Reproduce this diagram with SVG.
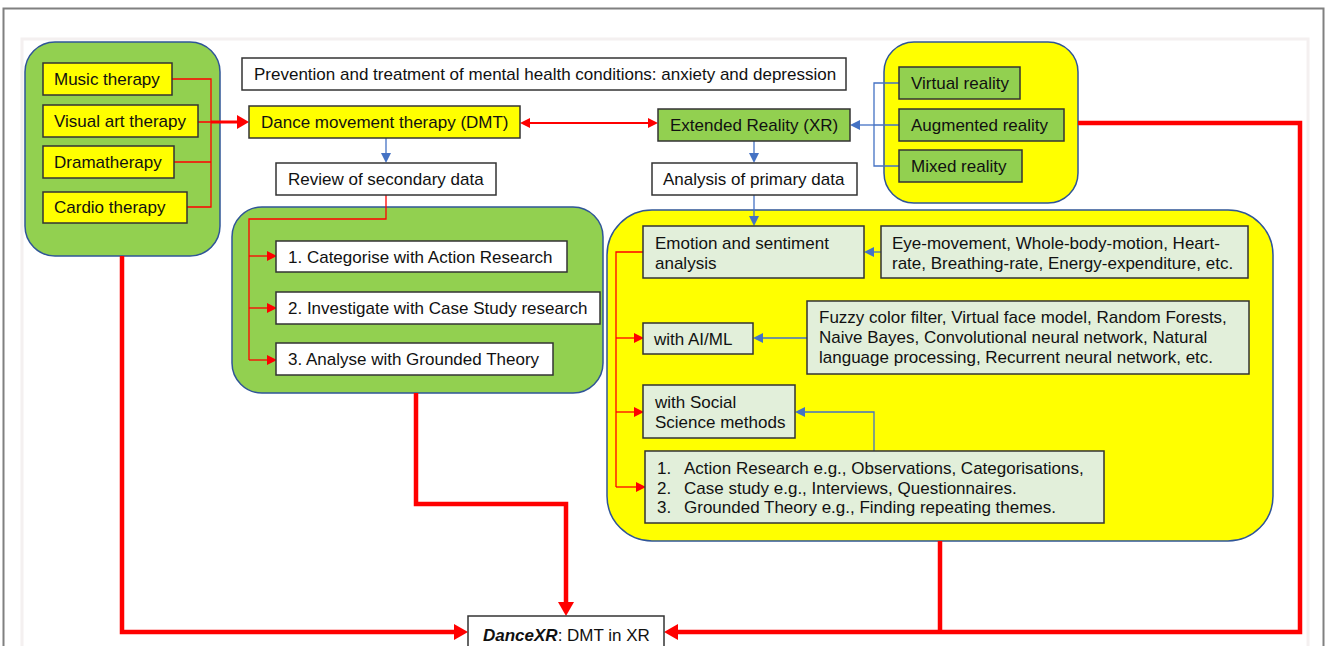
<svg xmlns="http://www.w3.org/2000/svg" width="1327" height="646" viewBox="0 0 1327 646">
<style>
text{font-family:"Liberation Sans",Arial,sans-serif;font-size:17px;fill:#111}
.grp{stroke:#2f5597;stroke-width:1.5}
.gg{fill:#92d050}
.yy{fill:#ffff00}
.bx{stroke:#333;stroke-width:1.5}
.wh{fill:#fff}
.lg{fill:#e2efda}
.rt{fill:none;stroke:#ff0000;stroke-width:1.3}
.rk{fill:none;stroke:#ff0000;stroke-width:4.5}
.bl{fill:none;stroke:#4472c4;stroke-width:1.3}
</style>
<defs>
<marker id="aRK" markerUnits="userSpaceOnUse" markerWidth="14" markerHeight="16" refX="0" refY="8" orient="auto"><path d="M0,0 L14,8 L0,16 z" fill="#ff0000"/></marker>
<marker id="aRM" markerUnits="userSpaceOnUse" markerWidth="12" markerHeight="14" refX="0" refY="7" orient="auto"><path d="M0,0 L12,7 L0,14 z" fill="#ff0000"/></marker>
<marker id="aR" markerUnits="userSpaceOnUse" markerWidth="10" markerHeight="10" refX="0" refY="5" orient="auto-start-reverse"><path d="M0,0 L10,5 L0,10 z" fill="#ff0000"/></marker>
<marker id="aB" markerUnits="userSpaceOnUse" markerWidth="10" markerHeight="10" refX="0" refY="5" orient="auto"><path d="M0,0 L10,5 L0,10 z" fill="#4472c4"/></marker>
</defs>
<rect x="0" y="0" width="1327" height="646" fill="#fff"/>
<rect x="3.5" y="8.5" width="1320" height="650" fill="#fff" stroke="#808080" stroke-width="2"/>
<rect x="22" y="39" width="1286" height="620" fill="#fff" stroke="#f4f0f0" stroke-width="3"/>

<g id="group-therapies">
<rect class="grp gg" x="25" y="42" width="195" height="214" rx="30"/>
</g>
<g id="group-secondary">
<rect class="grp gg" x="232" y="207" width="371" height="186" rx="30"/>
</g>
<g id="group-xr">
<rect class="grp yy" x="884" y="42" width="194" height="161" rx="30"/>
</g>
<g id="group-primary">
<rect class="grp yy" x="607" y="210" width="666" height="331" rx="45"/>
</g>

<g id="connectors">
<path class="rt" d="M172,79 H211 V207 H187 M198,122 H211 M174,162 H211"/>
<path class="rk" style="stroke-width:3" d="M211,122 H237" marker-end="url(#aRM)"/>
<path class="rt" style="stroke-width:2" d="M530,123 H648" marker-start="url(#aR)" marker-end="url(#aR)"/>
<path class="bl" d="M899,83 H874 V166 H899 M899,125 H874"/>
<path class="bl" d="M874,125 H860" marker-end="url(#aB)"/>
<path class="bl" d="M386,138 V153" marker-end="url(#aB)"/>
<path class="bl" d="M754,141 V153" marker-end="url(#aB)"/>
<path class="bl" d="M754,195 V216" marker-end="url(#aB)"/>
<path class="rt" d="M386,195 V219 H249 V360"/>
<path class="rt" d="M249,256 H267" marker-end="url(#aR)"/>
<path class="rt" d="M249,308 H267" marker-end="url(#aR)"/>
<path class="rt" d="M249,360 H267" marker-end="url(#aR)"/>
<path class="bl" d="M881,252 H874" marker-end="url(#aB)"/>
<path class="bl" d="M807,338 H763" marker-end="url(#aB)"/>
<path class="bl" d="M874,451 V412 H805" marker-end="url(#aB)"/>
<path class="rt" d="M643,252 H616 V487"/>
<path class="rt" d="M616,338 H634" marker-end="url(#aR)"/>
<path class="rt" d="M616,412 H634" marker-end="url(#aR)"/>
<path class="rt" d="M616,487 H636" marker-end="url(#aR)"/>
<path class="rk" d="M122,256 V632 H454" marker-end="url(#aRK)"/>
<path class="rk" d="M416,393 V504 H566 V602" marker-end="url(#aRK)"/>
<path class="rk" d="M1078,123 H1300 V632 H678" marker-end="url(#aRK)"/>
<path class="rk" d="M940,541 V632"/>
</g>

<g id="music"><rect class="bx yy" x="43" y="63" width="129" height="32"/><text x="54" y="85">Music therapy</text></g>
<g id="visual"><rect class="bx yy" x="43" y="105" width="155" height="32"/><text x="54" y="127">Visual art therapy</text></g>
<g id="drama"><rect class="bx yy" x="43" y="146" width="131" height="32"/><text x="54" y="168">Dramatherapy</text></g>
<g id="cardio"><rect class="bx yy" x="43" y="192" width="144" height="31"/><text x="54" y="213">Cardio therapy</text></g>
<g id="prevention"><rect class="bx wh" x="242" y="58" width="604" height="32"/><text x="254" y="80">Prevention and treatment of mental health conditions: anxiety and depression</text></g>
<g id="dmt"><rect class="bx yy" x="249" y="106" width="271" height="32"/><text x="261" y="128">Dance movement therapy (DMT)</text></g>
<g id="xr"><rect class="bx gg" x="658" y="109" width="192" height="32"/><text x="670" y="131">Extended Reality (XR)</text></g>
<g id="review"><rect class="bx wh" x="276" y="163" width="220" height="32"/><text x="288" y="185">Review of secondary data</text></g>
<g id="analysis"><rect class="bx wh" x="652" y="163" width="205" height="32"/><text x="663" y="185">Analysis of primary data</text></g>
<g id="vr"><rect class="bx gg" x="899" y="67" width="121" height="32"/><text x="911" y="89">Virtual reality</text></g>
<g id="ar"><rect class="bx gg" x="899" y="109" width="165" height="32"/><text x="911" y="131">Augmented reality</text></g>
<g id="mr"><rect class="bx gg" x="899" y="150" width="123" height="32"/><text x="911" y="172">Mixed reality</text></g>
<g id="step1"><rect class="bx wh" x="276" y="241" width="291" height="31"/><text x="288" y="263">1. Categorise with Action Research</text></g>
<g id="step2"><rect class="bx wh" x="276" y="292" width="324" height="32"/><text x="288" y="314">2. Investigate with Case Study research</text></g>
<g id="step3"><rect class="bx wh" x="276" y="343" width="277" height="32"/><text x="288" y="365">3. Analyse with Grounded Theory</text></g>
<g id="emotion"><rect class="bx lg" x="643" y="226" width="221" height="52"/><text x="655" y="249">Emotion and sentiment</text><text x="655" y="269">analysis</text></g>
<g id="sensors"><rect class="bx lg" x="881" y="226" width="367" height="52"/><text x="892" y="249">Eye-movement, Whole-body-motion, Heart-</text><text x="892" y="269">rate, Breathing-rate, Energy-expenditure, etc.</text></g>
<g id="aiml"><rect class="bx lg" x="643" y="323" width="110" height="31"/><text x="654" y="345">with AI/ML</text></g>
<g id="algorithms"><rect class="bx lg" x="807" y="301" width="442" height="73"/><text x="819" y="323">Fuzzy color filter, Virtual face model, Random Forests,</text><text x="819" y="343">Naive Bayes, Convolutional neural network, Natural</text><text x="819" y="363">language processing, Recurrent neural network, etc.</text></g>
<g id="social"><rect class="bx lg" x="643" y="385" width="152" height="53"/><text x="655" y="408">with Social</text><text x="655" y="428">Science methods</text></g>
<g id="methods"><rect class="bx lg" x="645" y="451" width="459" height="72"/>
<text x="657" y="474">1.</text><text x="684" y="474">Action Research e.g., Observations, Categorisations,</text>
<text x="657" y="494">2.</text><text x="684" y="494">Case study e.g., Interviews, Questionnaires.</text>
<text x="657" y="513">3.</text><text x="684" y="513">Grounded Theory e.g., Finding repeating themes.</text></g>
<g id="dancexr"><rect class="bx wh" x="468" y="616" width="196" height="40"/><text x="483" y="641"><tspan font-weight="bold" font-style="italic">DanceXR</tspan>: DMT in XR</text></g>
</svg>
